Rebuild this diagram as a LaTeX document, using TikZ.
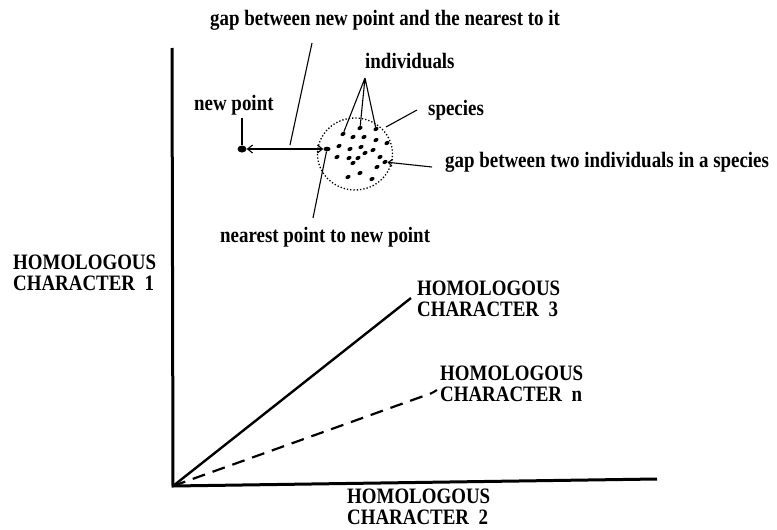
\documentclass[tikz,border=0pt]{standalone}
\usepackage{fontspec}
\newfontfamily\labfont{Liberation Serif}[FakeStretch=0.86]
\usetikzlibrary{arrows.meta,shapes.geometric}
\begin{document}
\begin{tikzpicture}[x=1pt,y=-1pt,
  lab/.style={inner sep=0pt,font=\labfont\bfseries\fontsize{22}{21}\selectfont},
  biglab/.style={lab,align=left,anchor=north west},
  smalllab/.style={lab,anchor=base west},
  axis/.style={line width=3pt},
  thin/.style={line width=1.1pt},
  indiv/.style={ellipse,fill=black,inner sep=0pt,minimum width=5.4pt,minimum height=3.8pt},
]
\useasboundingbox (0,0) rectangle (777,530);
% axes
\coordinate (O) at (173,486);
\coordinate (ytop) at (172,48);
\coordinate (xend) at (657,479);
\draw[axis] (ytop) -- (O) -- (xend);
\coordinate (c3) at (411,298);
\draw[line width=2.4pt] (O) -- (c3);
\coordinate (cn) at (432,393);
\draw[line width=2.2pt,dash pattern=on 13pt off 8pt] (O) -- (cn);
\coordinate (cn2) at (437,390);
% labels
\node[biglab] (l1) at (13,255) {HOMOLOGOUS\\CHARACTER\ \ 1};
\node[biglab] (l3) at (417,281) {HOMOLOGOUS\\CHARACTER\ \ 3};
\node[biglab] (ln) at (440,366) {HOMOLOGOUS\\CHARACTER\ \ n};
\node[biglab] (l2) at (347,489) {HOMOLOGOUS\\CHARACTER\ \ 2};
% small labels
\node[smalllab] (tgap) at (210,25) {gap between new point and the nearest to it};
\node[smalllab] (tind) at (365,68) {individuals};
\node[smalllab] (tnew) at (194,110) {new point};
\node[smalllab] (tspe) at (428,115) {species};
\node[smalllab] (tgap2) at (445,167) {gap between two individuals in a species};
\node[smalllab] (tnear) at (220,242) {nearest point to new point};
% species cluster
\node[draw,ellipse,dotted,line width=1.3pt,minimum width=75pt,minimum height=72pt,inner sep=0pt] (spec) at (355,154) {};
\node[ellipse,fill=black,inner sep=0pt,minimum width=9pt,minimum height=7pt] (np) at (242,149) {};
\node[indiv,minimum width=7pt,minimum height=4.6pt] (near) at (327,149) {};
\foreach \i/\p in {1/{343,134},2/{360,128},3/{376,129},4/{353,137},5/{364,137},6/{376,140},
  7/{339,146},8/{350,149},9/{361,147},10/{373,150},11/{387,143},12/{337,157},13/{349,158},
  14/{365,153},15/{380,157},16/{353,163},17/{358,158},18/{377,167},19/{385,162},20/{360,173},
  21/{348,177},22/{372,179}}
  \node[indiv,rotate=30] (d\i) at (\p) {};
% leaders
\coordinate (g1) at (312,43);
\coordinate (g2) at (290,145);
\draw[thin] (g1) -- (g2);
\coordinate (apex) at (365,78);
\draw[thin] (apex) -- (d1) (apex) -- (d2) (apex) -- (d3);
\coordinate (n1) at (242,118);
\draw[thin] (n1) -- (np);
\draw[thin,{Straight Barb[length=5pt,width=8pt]}-{Straight Barb[length=5pt,width=8pt]}] (np.east) -- (near.west);
\coordinate (s1) at (417,110);
\coordinate (s2) at (386,127);
\draw[thin] (s1) -- (s2);
\coordinate (t1) at (432,167);
\draw[thin,-{Straight Barb[length=4pt,width=7pt]}] (t1) -- (d19);
\coordinate (r1) at (313,218);
\draw[thin] (r1) -- (near);
\draw[line width=2pt] (cn) to[out=30,in=200] (cn2);
\end{tikzpicture}
\end{document}
